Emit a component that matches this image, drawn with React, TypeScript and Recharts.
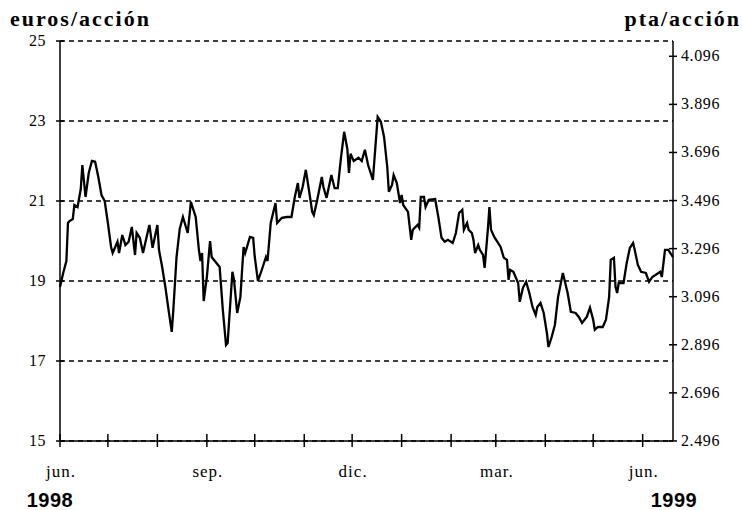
import React from "react";
import {
  LineChart,
  Line,
  XAxis,
  YAxis,
  CartesianGrid,
} from "recharts";

// días desde el 1 de junio de 1998 y cotización de cierre (euros/acción)
const dias = [
  0, 2, 4, 5, 6, 8, 9, 11, 13, 14, 16, 18, 20, 22, 24, 26, 28, 30, 32, 33, 36,
  37, 39, 41, 43, 45, 47, 48, 50, 52, 55, 56, 58, 61, 62, 64, 66, 68, 70, 71,
  73, 75, 77, 80, 82, 85, 87, 88, 89, 90, 92, 94, 95, 98, 100, 102, 104, 105,
  108, 109, 111, 113, 115, 116, 119, 121, 122, 124, 127, 129, 130, 132, 135,
  136, 139, 142, 145, 147, 149, 150, 152, 154, 157, 158, 159, 161, 164, 165,
  167, 170, 172, 174, 176, 178, 180, 181, 182, 184, 187, 189, 191, 193, 196,
  199, 201, 203, 205, 206, 208, 209, 211, 213, 214, 215, 218, 220, 221, 224,
  225, 226, 228, 229, 231, 235, 237, 239, 241, 243, 246, 248, 250, 252, 253,
  255, 256, 258, 259, 260, 262, 263, 265, 266, 268, 269, 270, 272, 274, 276,
  278, 280, 281, 282, 284, 287, 288, 290, 292, 294, 296, 298, 299, 301, 303,
  305, 306, 308, 310, 312, 315, 318, 320, 323, 325, 327, 330, 332, 334, 335,
  337, 340, 342, 344, 345, 347, 348, 349, 350, 353, 355, 357, 359, 360, 362,
  364, 367, 369, 371, 373, 376, 377, 379, 381, 384,
];

const euros = [
  18.85, 19.2, 19.5, 20.45, 20.5, 20.55, 20.9, 20.85, 21.3, 21.9, 21.1, 21.7,
  22.0, 21.98, 21.6, 21.15, 21.0, 20.45, 19.85, 19.7, 19.98, 19.7, 20.15, 19.9,
  19.98, 20.35, 19.65, 20.2, 20.08, 19.7, 20.23, 20.4, 19.83, 20.4, 19.78,
  19.35, 18.85, 18.28, 17.73, 18.28, 19.6, 20.3, 20.6, 20.2, 20.98, 20.6,
  19.78, 19.5, 19.7, 18.5, 19.1, 20.0, 19.6, 19.45, 19.35, 18.28, 17.4, 17.45,
  19.23, 19.03, 18.2, 18.6, 19.85, 19.7, 20.1, 20.08, 19.6, 19.0, 19.35, 19.6,
  19.5, 20.45, 20.95, 20.45, 20.58, 20.6, 20.6, 21.08, 21.45, 21.08, 21.35,
  21.78, 21.0, 20.73, 20.65, 21.0, 21.6, 21.35, 21.08, 21.65, 21.32, 21.32,
  22.08, 22.73, 22.3, 21.7, 22.18, 22.0, 22.08, 22.0, 22.28, 21.9, 21.53, 23.1,
  22.98, 22.6, 21.85, 21.23, 21.4, 21.65, 21.45, 20.95, 21.15, 20.9, 20.73,
  20.03, 20.28, 20.4, 20.33, 21.1, 21.1, 20.85, 21.03, 21.05, 20.6, 20.08,
  19.98, 20.03, 19.95, 20.2, 20.7, 20.78, 20.28, 20.45, 20.28, 20.2, 20.03,
  19.7, 19.9, 19.78, 19.65, 19.33, 20.28, 20.85, 20.28, 20.1, 19.98, 19.85,
  19.58, 19.53, 19.03, 19.28, 19.23, 18.95, 18.48, 18.83, 18.98, 18.7, 18.35,
  18.15, 18.35, 18.45, 18.2, 17.7, 17.35, 17.6, 17.9, 18.6, 19.2, 18.7, 18.23,
  18.2, 18.1, 17.95, 18.1, 18.33, 18.03, 17.78, 17.85, 17.85, 18.03, 18.6,
  19.53, 19.58, 18.85, 18.7, 18.95, 18.95, 19.45, 19.83, 19.95, 19.78, 19.4,
  19.23, 19.2, 18.98, 19.1, 19.15, 19.23, 19.1, 19.78, 19.78, 19.6,
];

// inicio de cada mes (días desde 1-jun-1998)
const mesesTicks = [0, 30, 61, 92, 122, 153, 183, 214, 245, 273, 304, 334, 365];
const mesesEtiquetas: Record<number, string> = {
  0: "jun.",
  92: "sep.",
  183: "dic.",
  273: "mar.",
  365: "jun.",
};

const eurosTicks = [15, 17, 19, 21, 23, 25];
const ptaTicks = [2496, 2696, 2896, 3096, 3296, 3496, 3696, 3896, 4096];
const PTA_POR_EURO = 166.386;

const data = dias.map((d, i) => ({ dia: d, euros: euros[i] }));

const serif = "'Liberation Serif', 'Times New Roman', serif";
const sans = "'Liberation Sans', Arial, sans-serif";

const MesTick = (props: any) => {
  const { x, y, payload } = props;
  const label = mesesEtiquetas[payload.value];
  return (
    <g>
      <line x1={x} x2={x} y1={y - 7} y2={y + 6} stroke="#000" strokeWidth={1.5} />
      {label && (
        <text
          x={x + 1}
          y={y + 36}
          textAnchor="middle"
          fontFamily={serif}
          fontSize={17}
          letterSpacing={1}
          fill="#000"
        >
          {label}
        </text>
      )}
    </g>
  );
};

const EurosTick = (props: any) => {
  const { x, y, payload } = props;
  return (
    <g>
      <line x1={x - 4} x2={x + 4} y1={y} y2={y} stroke="#000" strokeWidth={1.5} />
      <text
        x={x - 14}
        y={y + 5}
        textAnchor="end"
        fontFamily={serif}
        fontSize={16}
        letterSpacing={0.5}
        fill="#000"
      >
        {payload.value}
      </text>
    </g>
  );
};

const PtaTick = (props: any) => {
  const { x, y, payload } = props;
  return (
    <g>
      <line x1={x - 4} x2={x + 4} y1={y} y2={y} stroke="#000" strokeWidth={1.5} />
      <text
        x={x + 8}
        y={y + 5}
        textAnchor="start"
        fontFamily={serif}
        fontSize={16}
        letterSpacing={0.6}
        fill="#000"
      >
        {(payload.value / 1000).toFixed(3)}
      </text>
    </g>
  );
};

export default function App() {
  return (
    <div
      style={{
        position: "absolute",
        left: 0,
        top: 0,
        width: 742,
        height: 510,
        background: "#fff",
      }}
    >
      <LineChart
        width={742}
        height={510}
        data={data}
        margin={{ top: 41, right: 0, bottom: 0, left: 0 }}
      >
        <CartesianGrid
          yAxisId="eur"
          vertical={false}
          stroke="#000"
          strokeWidth={1.5}
          strokeDasharray="5 4"
        />
        <XAxis
          dataKey="dia"
          type="number"
          domain={[0, 384]}
          ticks={mesesTicks}
          interval={0}
          height={69}
          tickSize={0}
          tickMargin={0}
          tickLine={false}
          axisLine={{ stroke: "#000", strokeWidth: 1.5 }}
          tick={<MesTick />}
        />
        <YAxis
          yAxisId="eur"
          orientation="left"
          domain={[15, 25]}
          ticks={eurosTicks}
          interval={0}
          width={60}
          tickSize={0}
          tickMargin={0}
          tickLine={false}
          axisLine={{ stroke: "#000", strokeWidth: 1.5 }}
          tick={<EurosTick />}
        />
        <YAxis
          yAxisId="pta"
          orientation="right"
          domain={[15 * PTA_POR_EURO, 25 * PTA_POR_EURO]}
          allowDataOverflow
          ticks={ptaTicks}
          interval={0}
          width={69}
          tickSize={0}
          tickMargin={0}
          tickLine={false}
          axisLine={{ stroke: "#000", strokeWidth: 1.5 }}
          tick={<PtaTick />}
        />
        <Line
          yAxisId="pta"
          dataKey={(d: any) => d.euros * PTA_POR_EURO}
          stroke="none"
          dot={false}
          activeDot={false}
          isAnimationActive={false}
        />
        <Line
          yAxisId="eur"
          type="linear"
          dataKey="euros"
          stroke="#000"
          strokeWidth={2.3}
          dot={false}
          activeDot={false}
          isAnimationActive={false}
        />
      </LineChart>
      <svg
        width={742}
        height={510}
        style={{ position: "absolute", left: 0, top: 0, pointerEvents: "none" }}
      >
        <text x={10} y={26} fontFamily={serif} fontWeight="bold" fontSize={22} letterSpacing={2} fill="#000">
          euros/acción
        </text>
        <text x={741} y={26} textAnchor="end" fontFamily={serif} fontWeight="bold" fontSize={22} letterSpacing={2} fill="#000">
          pta/acción
        </text>
        <text x={50} y={507} textAnchor="middle" fontFamily={sans} fontWeight="bold" fontSize={20} letterSpacing={0.5} fill="#000">
          1998
        </text>
        <text x={674} y={507} textAnchor="middle" fontFamily={sans} fontWeight="bold" fontSize={20} letterSpacing={0.5} fill="#000">
          1999
        </text>
      </svg>
    </div>
  );
}
